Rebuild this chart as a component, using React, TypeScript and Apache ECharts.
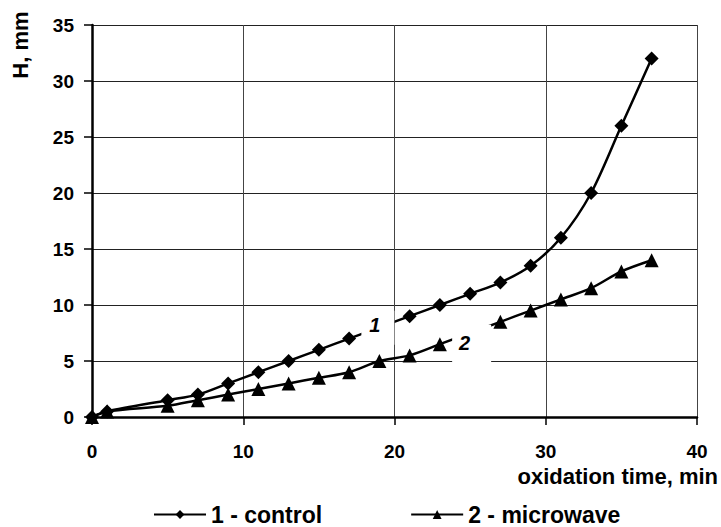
import React, { useEffect, useRef } from "react";
import * as echarts from "echarts";

const controlX = [0, 1, 5, 7, 9, 11, 13, 15, 17, 21, 23, 25, 27, 29, 31, 33, 35, 37];
const controlY = [0, 0.5, 1.5, 2, 3, 4, 5, 6, 7, 9, 10, 11, 12, 13.5, 16, 20, 26, 32];
const microX = [0, 1, 5, 7, 9, 11, 13, 15, 17, 19, 21, 23, 27, 29, 31, 33, 35, 37];
const microY = [0, 0.5, 1, 1.5, 2, 2.5, 3, 3.5, 4, 5, 5.5, 6.5, 8.5, 9.5, 10.5, 11.5, 13, 14];
const seriesNames = ["1 - control", "2 - microwave"];
const curveLabels = ["1", "2"];
const curveLabelAt = [
  [18.9, 7.97],
  [25.1, 6.46],
];

const FONT = "'Liberation Sans', Arial, sans-serif";

export default function App() {
  const ref = useRef<HTMLDivElement>(null);
  useEffect(() => {
    if (!ref.current) return;
    const chart = echarts.init(ref.current, undefined, { renderer: "svg" });
    const pair = (xs: number[], ys: number[]) => xs.map((x, i) => [x, ys[i]]);
    chart.setOption({
      animation: false,
      backgroundColor: "#fff",
      textStyle: { fontFamily: FONT },
      grid: { left: 92, right: 24, top: 25, bottom: 110, containLabel: false },
      xAxis: {
        type: "value",
        min: 0,
        max: 40,
        interval: 10,
        axisLine: { show: true, onZero: false, lineStyle: { color: "#000", width: 2.5 } },
        axisTick: { show: true, length: 8, inside: false, lineStyle: { color: "#000", width: 1.5 } },
        axisLabel: { color: "#000", fontSize: 19, fontWeight: "bold", margin: 25, fontFamily: FONT },
        splitLine: { show: true, lineStyle: { color: "#444", width: 1 } },
      },
      yAxis: {
        type: "value",
        min: 0,
        max: 35,
        interval: 5,
        axisLine: { show: true, onZero: false, lineStyle: { color: "#000", width: 2.5 } },
        axisTick: { show: true, length: 8, inside: false, lineStyle: { color: "#000", width: 1.5 } },
        axisLabel: { color: "#000", fontSize: 19, fontWeight: "bold", margin: 18, fontFamily: FONT },
        splitLine: { show: true, lineStyle: { color: "#222", width: 1 } },
      },
      legend: {
        data: seriesNames,
        left: 153,
        top: 503,
        padding: 0,
        itemWidth: 52,
        itemHeight: 11,
        itemGap: 88,
        textStyle: { color: "#000", fontSize: 23, fontWeight: "bold", fontFamily: FONT, padding: [0, 0, 0, 0] },
      },
      graphic: [
        {
          type: "text",
          x: 20,
          y: 45,
          rotation: Math.PI / 2,
          style: {
            text: "H, mm",
            fill: "#000",
            font: `bold 22px ${FONT}`,
            align: "center",
            verticalAlign: "middle",
          },
        },
        {
          type: "text",
          x: 718,
          y: 476,
          style: {
            text: "oxidation time, min",
            fill: "#000",
            font: `bold 22px ${FONT}`,
            align: "right",
            verticalAlign: "middle",
          },
        },
      ],
      series: [
        {
          name: seriesNames[0],
          type: "line",
          data: pair(controlX, controlY),
          smooth: 0.3,
          symbol: "diamond",
          symbolSize: 14,
          itemStyle: { color: "#000" },
          lineStyle: { color: "#000", width: 2.5 },
          markPoint: {
            symbol: "rect",
            itemStyle: { color: "#fff" },
            z: 5,
            data: [
              {
                coord: curveLabelAt[0],
                symbolSize: [33, 34],
                label: {
                  show: true,
                  formatter: curveLabels[0],
                  position: "inside",
                  offset: [-3, -3],
                  color: "#000",
                  fontSize: 20,
                  fontWeight: "bold",
                  fontStyle: "italic",
                  fontFamily: FONT,
                },
              },
              {
                coord: curveLabelAt[1],
                symbolSize: [39, 40],
                label: {
                  show: true,
                  formatter: curveLabels[1],
                  position: "inside",
                  offset: [-7, -2],
                  color: "#000",
                  fontSize: 20,
                  fontWeight: "bold",
                  fontStyle: "italic",
                  fontFamily: FONT,
                },
              },
            ],
          },
        },
        {
          name: seriesNames[1],
          type: "line",
          data: pair(microX, microY),
          smooth: 0.3,
          symbol: "triangle",
          symbolSize: 14,
          itemStyle: { color: "#000" },
          lineStyle: { color: "#000", width: 2.5 },
        },
      ],
    });
    return () => chart.dispose();
  }, []);
  return (
    <div
      ref={ref}
      style={{ position: "fixed", left: 0, top: 0, width: 721, height: 527, background: "#fff" }}
    />
  );
}
